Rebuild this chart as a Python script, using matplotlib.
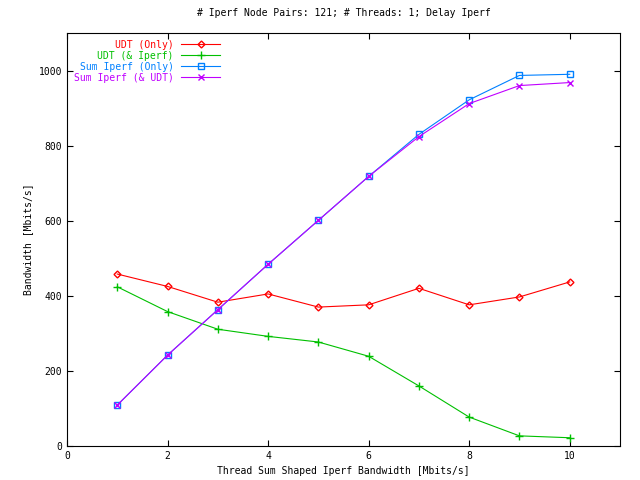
import matplotlib
matplotlib.use("Agg")
import matplotlib.pyplot as plt

x = [1, 2, 3, 4, 5, 6, 7, 8, 9, 10]
udt_only = [458, 425, 383, 405, 370, 376, 420, 376, 397, 437]
udt_iperf = [424, 358, 311, 292, 277, 239, 160, 77, 27, 22]
sum_iperf_only = [109, 242, 363, 484, 601, 718, 830, 922, 987, 990]
sum_iperf_udt = [109, 242, 363, 484, 601, 718, 824, 912, 960, 968]

plt.rcParams["font.family"] = "DejaVu Sans Mono"
plt.rcParams["font.size"] = 7
fig = plt.figure(figsize=(6.4, 4.8), dpi=100)
ax = fig.add_axes([67/640, 1-446/480, (620-67)/640, (446-33)/480])
lw = 0.8
ax.plot(x, udt_only, color="#ff0000", marker="D", mfc="none", ms=3.5, lw=lw, label="UDT (Only)")
ax.plot(x, udt_iperf, color="#00c000", marker="+", ms=6, lw=lw, label="UDT (& Iperf)")
ax.plot(x, sum_iperf_only, color="#0080ff", marker="s", mfc="none", ms=4.5, lw=lw, label="Sum Iperf (Only)")
ax.plot(x, sum_iperf_udt, color="#c000ff", marker="x", ms=5, lw=lw, label="Sum Iperf (& UDT)")
ax.set_xlim(0, 11)
ax.set_ylim(0, 1100)
ax.set_xticks([0, 2, 4, 6, 8, 10])
ax.set_yticks([0, 200, 400, 600, 800, 1000])
ax.tick_params(direction="in", top=True, right=True, length=4)
ax.set_xlabel("Thread Sum Shaped Iperf Bandwidth [Mbits/s]")
ax.set_ylabel("Bandwidth [Mbits/s]")
ax.set_title("# Iperf Node Pairs: 121; # Threads: 1; Delay Iperf", fontsize=7, pad=12)
leg = ax.legend(loc="upper left", markerfirst=False, frameon=False, handlelength=4,
                borderpad=0.2, labelspacing=0.1, bbox_to_anchor=(0.0, 1.0))
for t, c in zip(leg.get_texts(), ["#ff0000", "#00c000", "#0080ff", "#c000ff"]):
    t.set_color(c)
fig.savefig("out.png", dpi=100)
